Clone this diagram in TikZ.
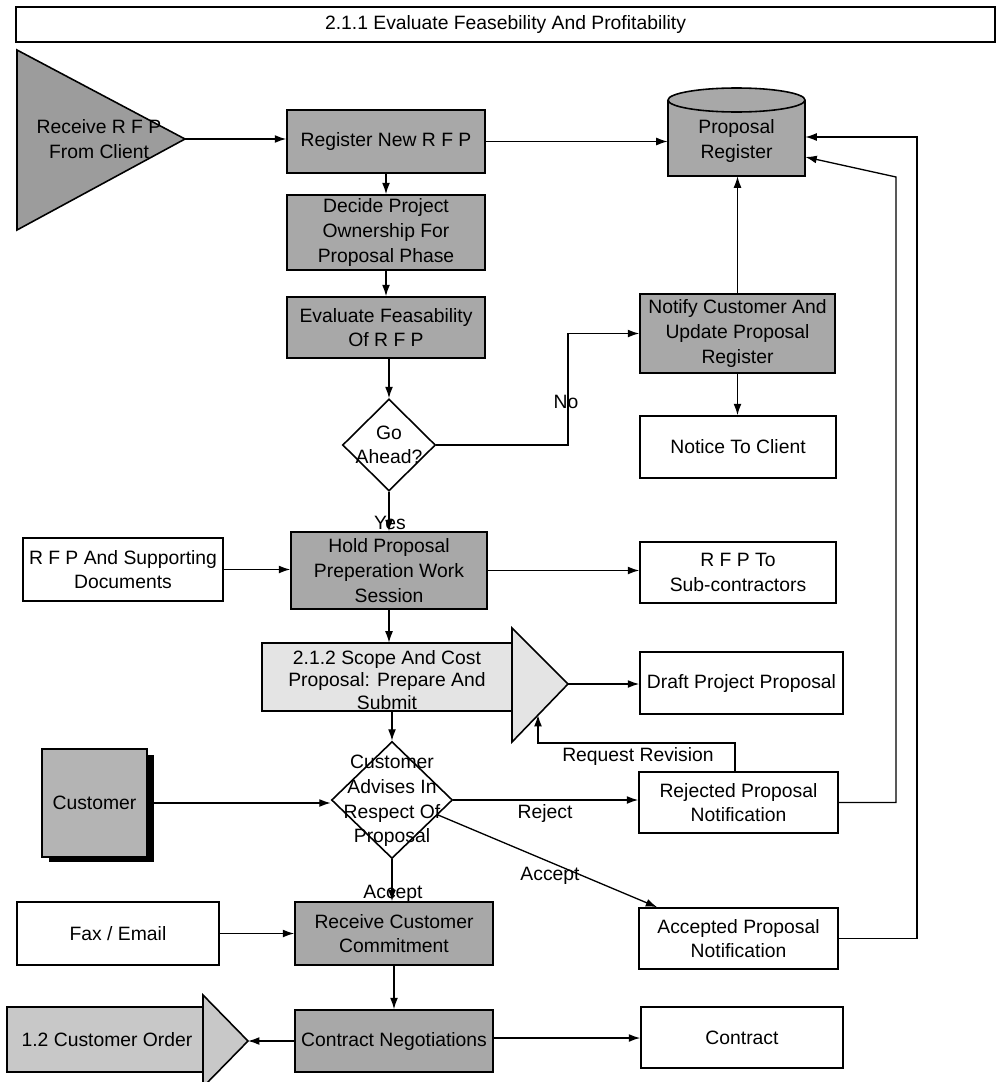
\documentclass[tikz,border=0pt]{standalone}
\usepackage{fontspec}
\setmainfont{Liberation Sans}
\usetikzlibrary{shapes.geometric,arrows.meta,calc}
\definecolor{procgray}{RGB}{168,168,168}
\definecolor{trigray}{RGB}{156,156,156}
\definecolor{scopegray}{RGB}{228,228,228}
\definecolor{ordergray}{RGB}{200,200,200}
\definecolor{custgray}{RGB}{180,180,180}
\begin{document}
\begin{tikzpicture}[x=0.02cm,y=-0.02cm,
  font=\fontsize{11}{14}\selectfont,
  sz/.style 2 args={minimum width=#1*0.02cm, minimum height=#2*0.02cm},
  box/.style={draw, line width=0.9pt, align=center, inner sep=1pt},
  proc/.style={box, fill=procgray},
  doc/.style={box, fill=white},
  ghost/.style={inner sep=0pt, align=center},
  shp/.style={draw, line width=0.9pt},
  dec/.style={draw, diamond, line width=0.9pt, fill=white, inner sep=0pt},
  arr/.style={line width=0.75pt, -{Latex[length=6.5pt,width=4.5pt]}},
  lbl/.style={inner sep=0pt, align=center}]
\clip (0,0) rectangle (996,1082);
\useasboundingbox (0,0) rectangle (996,1082);

% title
\node[box, fill=white, sz={979}{35}] (title) at (505.5,24.5)
  {2.1.1 Evaluate Feasebility And Profitability};

% receive RFP triangle
\draw[shp, fill=trigray] (17,50) -- (185,139) -- (17,230) -- cycle;
\node[lbl] (recv) at (99,139) {Receive R F P\\From Client};
\coordinate (recvtip) at (185,139);

% process boxes
\node[proc, sz={198}{63}] (reg) at (386,141.5) {Register New R F P};
\node[proc, sz={198}{75}] (decide) at (386,232.5) {Decide Project\\Ownership For\\Proposal Phase};
\node[proc, sz={198}{61}] (evalf) at (386,327.5) {Evaluate Feasability\\Of R F P};

% proposal register cylinder
\draw[shp, fill=procgray] (668,100) -- (668,176) -- (805,176) -- (805,100);
\draw[shp, fill=procgray] (736.5,100) ellipse [x radius=1.37cm, y radius=0.24cm];
\node[ghost, sz={137}{76}] (propreg) at (736.5,138) {};
\node[lbl] (propregtxt) at (736.5,141) {Proposal\\Register};

% go ahead decision
\node[dec, sz={93}{92}] (go) at (389,445) {};
\node[lbl] (gotxt) at (389,445) {Go\\Ahead?};

\node[proc, sz={195}{79}] (notify) at (737.5,333.5) {Notify Customer And\\Update Proposal\\Register};
\node[doc, sz={196}{62}] (notice) at (738,447) {Notice To Client};

\node[doc, sz={200}{63}] (rfpdocs) at (123,569.5) {R F P And Supporting\\Documents};
\node[proc, sz={196}{77}] (hold) at (389,570.5) {Hold Proposal\\Preperation Work\\Session};
\node[doc, sz={196}{61}] (rfpsub) at (738,572.5) {R F P To\\Sub-contractors};

% scope off-page shape
\draw[shp, fill=scopegray] (262,643) rectangle (512,711);
\draw[shp, fill=scopegray] (512,628) -- (568,684) -- (512,742) -- cycle;
\node[ghost, sz={250}{68}] (scope) at (387,677) {};
\node[lbl, font=\fontsize{11}{13}\selectfont] (scopetxt) at (387,680) {2.1.2 Scope And Cost\\Proposal: Prepare And\\Submit};
\coordinate (scopetip) at (568,684);
\coordinate (revpt) at (538,715);
\coordinate (revcorner) at (538,743);

\node[doc, sz={203}{62}] (draft) at (741.5,683) {Draft Project Proposal};

% customer
\fill[black] (49,755) rectangle (154,862);
\node[box, fill=custgray, sz={105}{108}] (customer) at (94.5,803) {Customer};

% customer advises decision
\node[dec, sz={121}{117}] (cust) at (392,800) {};
\node[lbl] (custtxt) at (392,801) {Customer\\Advises In\\Respect Of\\Proposal};

\node[doc, sz={199}{61}] (rej) at (738.5,802.5) {Rejected Proposal\\Notification};
\node[doc, sz={199}{61}] (acc) at (738.5,938.5) {Accepted Proposal\\Notification};

\node[proc, sz={198}{63}] (rcc) at (394,933.5) {Receive Customer\\Commitment};
\node[doc, sz={202}{63}] (fax) at (118,933.5) {Fax / Email};
\node[proc, sz={198}{62}] (cn) at (394,1041) {Contract Negotiations};
\node[doc, sz={202}{61}] (contract) at (742,1037.5) {Contract};

% customer order off-page shape
\draw[shp, fill=ordergray] (7,1007) rectangle (203,1072);
\draw[shp, fill=ordergray] (203,995) -- (248,1041) -- (203,1087) -- cycle;
\node[lbl] (order) at (107,1040) {1.2 Customer Order};
\coordinate (ordertip) at (248,1041);

\coordinate (nox) at (568,0);
\coordinate (rx) at (896,177);
\coordinate (ax) at (917,137);

% connectors
\draw[arr] (recvtip) -- (recvtip -| reg.west);
\draw[arr] (reg.east) -- (reg.east -| propreg.west);
\draw[arr] (reg.south) -- (reg.south |- decide.north);
\draw[arr] (decide.south) -- (decide.south |- evalf.north);
\draw[arr] (evalf.south -| go.north) -- (go.north);
\draw[arr] (go.east) -| (nox |- notify.west) -- (notify.west);
\draw[arr] (notify.north) -- (notify.north |- propreg.south);
\draw[arr] (notify.south) -- (notify.south |- notice.north);
\draw[arr] (go.south) -- (go.south |- hold.north);
\draw[arr] (rfpdocs.east) -- (rfpdocs.east -| hold.west);
\draw[arr] (hold.east) -- (hold.east -| rfpsub.west);
\draw[arr] (hold.south) -- (hold.south |- scope.north);
\draw[arr] (scopetip) -- (scopetip -| draft.west);
\draw[arr] (scope.south -| cust.north) -- (cust.north);
\draw[arr] (customer.east) -- (customer.east -| cust.west);
\draw[arr] (cust.east) -- (cust.east -| rej.west);
\draw[arr] (cust.-18) -- ([xshift=0.38cm]acc.north west);
\draw[arr] ([xshift=-0.07cm]rej.north) |- (revcorner) -- (revpt);
\draw[arr] (rej.east) -| (rx) -- ([yshift=-0.38cm]propreg.east);
\draw[arr] (acc.east) -| (ax) -- (ax -| propreg.east);
\draw[arr] (cust.south) -- (cust.south |- rcc.north);
\draw[arr] (fax.east) -- (fax.east -| rcc.west);
\draw[arr] (rcc.south) -- (rcc.south |- cn.north);
\draw[arr] (cn.west) -- (ordertip);
\draw[arr] ([yshift=0.06cm]cn.east) -- ([yshift=0.06cm]cn.east -| contract.west);

% connector labels
\node[lbl] (lno) at (566,402) {No};
\node[lbl] (lyes) at (390,523) {Yes};
\node[lbl] (lrev) at (638,756) {Request Revision};
\node[lbl] (lrej) at (545,813) {Reject};
\node[lbl] (lacc1) at (550,876) {Accept};
\node[lbl] (lacc2) at (393,894) {Accept};
\end{tikzpicture}
\end{document}
